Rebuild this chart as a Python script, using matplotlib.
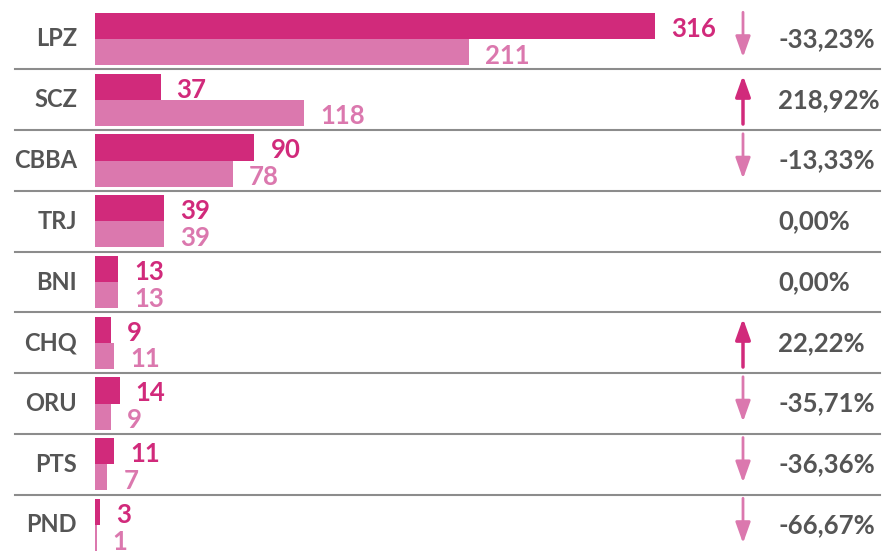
import matplotlib
matplotlib.use("Agg")
import matplotlib.pyplot as plt
import numpy as np

# data
regions = ['LPZ', 'SCZ', 'CBBA', 'TRJ', 'BNI', 'CHQ', 'ORU', 'PTS', 'PND']
prev_vals = [316, 37, 90, 39, 13, 9, 14, 11, 3]
curr_vals = [211, 118, 78, 39, 13, 11, 9, 7, 1]

dark = '#D12A7B'
light = '#DB78AE'
gray = '#555555'
line_gray = '#8C8C8C'

plt.rcParams['font.family'] = ['Lato', 'DejaVu Sans']

W, H = 886, 552
fig = plt.figure(figsize=(W / 100, H / 100), dpi=100)
ax = fig.add_axes([0, 0, 1, 1])
ax.axis('off')

# pixel layout -> data units
x0_px = 95
px_per_unit = 560 / 316
row0_px = 39
row_px = 60.75
ax.set_xlim(-x0_px / px_per_unit, (W - x0_px) / px_per_unit)
ax.set_ylim((H - row0_px) / row_px, -row0_px / row_px)

def px2x(p):
    return (p - x0_px) / px_per_unit

n = len(regions)
idx = np.arange(n)
bh = 0.43

ax.barh(idx - bh / 2, prev_vals, height=bh, color=dark, edgecolor='none')
ax.barh(idx + bh / 2, curr_vals, height=bh, color=light, edgecolor='none')

off = 9
for i in range(n):
    ax.text(px2x(77), i, regions[i], ha='right', va='center',
            fontsize=17, fontweight='bold', color=gray)
    ax.text(prev_vals[i] + off, i - bh / 2 + 0.05, str(prev_vals[i]), ha='left',
            va='center', fontsize=18.5, fontweight='bold', color=dark)
    ax.text(curr_vals[i] + off, i + bh / 2 + 0.06, str(curr_vals[i]), ha='left',
            va='center', fontsize=18.5, fontweight='bold', color=light)

    pct = (curr_vals[i] - prev_vals[i]) / prev_vals[i] * 100
    txt = ('%.2f' % pct).replace('.', ',') + '%'
    ax.text(px2x(778), i, txt, ha='left', va='center',
            fontsize=18.5, fontweight='bold', color=gray)

    ax_x = px2x(743)
    if pct < 0:
        ax.annotate('', xy=(ax_x, i + 0.30), xytext=(ax_x, i - 0.44),
                    arrowprops=dict(arrowstyle='-|>,head_length=0.7,head_width=0.25',
                                    mutation_scale=18, lw=2, color=light,
                                    shrinkA=0, shrinkB=0))
    elif pct > 0:
        ax.annotate('', xy=(ax_x, i - 0.40), xytext=(ax_x, i + 0.40),
                    arrowprops=dict(arrowstyle='-|>,head_length=0.7,head_width=0.25',
                                    mutation_scale=18, lw=2.5, color=dark,
                                    shrinkA=0, shrinkB=0))

    if i < n - 1:
        ax.plot([px2x(15), px2x(880)], [i + 0.5, i + 0.5], color=line_gray, lw=1.5)

fig.savefig('out.png', dpi=100)
